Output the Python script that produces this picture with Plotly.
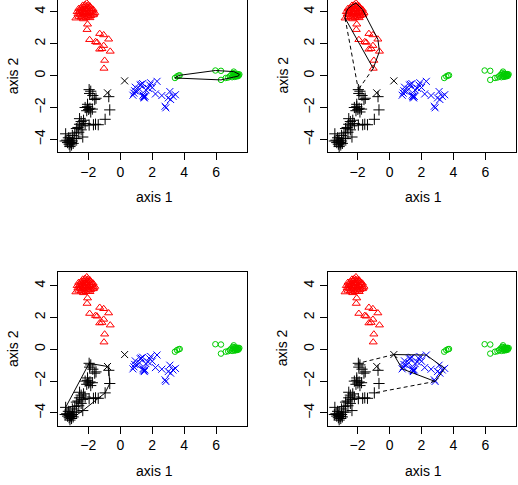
import plotly.graph_objects as go

# ---------------- data ----------------
black_plus_x = [-1.95, -1.85, -1.92, -1.72, -1.60, -1.52, -0.72, -0.66, -2.20, -2.05,
                -1.90, -1.75, -2.10, -1.85, -1.98, -0.95, -1.68, -1.38, -1.55, -2.30,
                -2.45, -2.20, -2.55, -2.35, -2.65, -2.45, -2.75, -2.60, -2.35, -2.85,
                -3.00, -2.90, -3.25, -3.42, -3.45, -3.30, -3.15, -3.10, -3.20, -3.00,
                -3.05, -2.95, -3.15, -3.35, -3.20, -3.05, -2.75, -2.05, -1.95, -2.55]
black_plus_y = [-0.88, -0.98, -1.12, -1.25, -1.50, -1.42, -1.32, -2.15, -2.00, -1.95,
                -2.05, -2.10, -2.20, -2.28, -2.12, -2.74, -3.08, -3.08, -3.05, -2.80,
                -2.88, -3.00, -3.05, -3.15, -3.25, -3.40, -3.32, -3.55, -3.85, -3.60,
                -3.75, -3.95, -3.90, -3.65, -4.10, -4.20, -4.05, -4.20, -4.30, -4.10,
                -4.35, -4.25, -4.45, -4.05, -4.15, -4.22, -3.95, -1.80, -3.10, -2.70]

black_x_x = [-0.80, 0.27]
black_x_y = [-1.08, -0.33]

red_x = [-2.78, -1.02, -0.98, -0.63, -1.04, -1.15, -1.29, -0.73, -1.04, -1.29,
         -1.55, -1.46, -1.92, -2.08, -2.05, -2.30, -1.90,
         -2.60, -2.45, -2.30, -2.15, -2.00, -1.85, -1.70, -1.60,
         -2.65, -2.50, -2.35, -2.20, -2.05, -1.90, -1.75,
         -2.55, -2.40, -2.25, -2.10, -1.95, -1.80, -1.70,
         -2.45, -2.30, -2.15, -2.00, -1.90,
         -2.35, -2.20, -2.10, -2.00,
         -2.60, -2.70, -1.65, -2.40, -2.25, -2.05, -1.85, -2.15]
red_y = [3.60, 0.45, 0.95, 1.52, 1.88, 1.68, 1.65, 2.28, 2.55, 2.63,
         2.12, 2.08, 2.25, 2.88, 3.22, 3.55, 3.62,
         3.70, 3.65, 3.72, 3.62, 3.70, 3.75, 3.80, 3.95,
         3.85, 3.90, 3.95, 3.90, 3.95, 4.00, 4.05,
         4.05, 4.10, 4.15, 4.10, 4.20, 4.20, 4.15,
         4.25, 4.30, 4.35, 4.30, 4.35,
         4.40, 4.45, 4.55, 4.42,
         4.20, 4.00, 3.85, 3.80, 4.00, 3.85, 3.90, 4.20]

blue_x = [0.79, 0.94, 0.90, 1.25, 1.40, 1.20, 1.05, 1.45, 1.50, 1.42,
          1.55, 1.48, 1.60, 1.75, 1.90, 2.30, 2.20, 2.00, 1.85, 2.60,
          2.80, 2.85, 3.10, 3.00, 3.30, 3.45, 3.15, 1.30, 0.85]
blue_y = [-1.23, -0.73, -0.95, -0.60, -0.50, -0.85, -1.00, -1.30, -1.40, -1.22,
          -1.30, -1.35, -0.90, -0.80, -0.45, -0.36, -1.15, -0.75, -0.60, -1.25,
          -1.92, -2.02, -1.00, -1.40, -1.30, -1.20, -1.50, -0.55, -1.10]

green_x = [3.42, 3.55, 3.65, 3.72, 5.95, 6.30, 6.30, 6.60, 6.75, 6.85,
           6.95, 7.00, 7.10, 7.10, 7.15, 7.20, 7.25, 7.30, 7.35, 7.40,
           7.45, 7.30, 7.20, 7.35, 7.40, 7.25, 7.15, 7.05]
green_y = [-0.15, -0.05, 0.00, 0.02, 0.32, 0.30, -0.27, -0.15, -0.12, -0.05,
           0.05, -0.10, 0.25, 0.00, -0.08, 0.10, 0.00, 0.05, 0.10, 0.05,
           0.08, -0.05, -0.05, 0.00, -0.02, 0.08, 0.12, 0.15]

x_ticks = [-2, 0, 2, 4, 6]
y_ticks = [-4, -2, 0, 2, 4]
x_title = "axis 1"
y_title = "axis 2"

BLACK, RED, GREEN, BLUE = "#000000", "#FF0000", "#00CD00", "#0000FF"

groups = [
    (black_plus_x, black_plus_y, "cross-thin-open", BLACK, 8),
    (black_x_x, black_x_y, "x-thin-open", BLACK, 7),
    (red_x, red_y, "triangle-up-open", RED, 7),
    (blue_x, blue_y, "x-thin-open", BLUE, 7),
    (green_x, green_y, "circle-open", GREEN, 5.5),
]


def convex_hull(xs, ys):
    pts = sorted(set(zip(xs, ys)))

    def cross(o, a, b):
        return (a[0] - o[0]) * (b[1] - o[1]) - (a[1] - o[1]) * (b[0] - o[0])
    lower, upper = [], []
    for p in pts:
        while len(lower) >= 2 and cross(lower[-2], lower[-1], p) <= 0:
            lower.pop()
        lower.append(p)
    for p in reversed(pts):
        while len(upper) >= 2 and cross(upper[-2], upper[-1], p) <= 0:
            upper.pop()
        upper.append(p)
    h = lower[:-1] + upper[:-1]
    h.append(h[0])
    return [p[0] for p in h], [p[1] for p in h]


# hull member sets and dashed links for each panel
panels = [
    dict(hull=(green_x, green_y), links=[]),
    dict(hull=(red_x, red_y),
         links=[((red_x[0], red_y[0]), (black_plus_x[0], black_plus_y[0])),
                ((red_x[1], red_y[1]), (black_plus_x[0], black_plus_y[0]))]),
    dict(hull=(black_plus_x + black_x_x[:1], black_plus_y + black_x_y[:1]), links=[]),
    dict(hull=(blue_x + black_x_x[1:], blue_y + black_x_y[1:]),
         links=[((black_x_x[1], black_x_y[1]), (black_plus_x[0], black_plus_y[0])),
                ((blue_x[21], blue_y[21]), (black_plus_x[15], black_plus_y[15]))]),
]

W, H = 518, 485
xdoms = [(58.3, 247.0), (327.5, 516.3), (58.3, 247.0), (327.5, 516.3)]
ydoms = [(0.0, 152.0), (0.0, 152.0), (272.0, 425.5), (272.0, 425.5)]
yranges = [(-4.79, 4.74), (-4.79, 4.74), (-4.79, 4.86), (-4.79, 4.86)]
xrange_ = (-3.88, 7.93)

fig = go.Figure()
FONT = dict(family="Liberation Sans, Arial, sans-serif", size=14, color="#000000")

for i, pan in enumerate(panels):
    k = "" if i == 0 else str(i + 1)
    for gx, gy, sym, col, sz in groups:
        fig.add_trace(go.Scatter(
            x=gx, y=gy, mode="markers", xaxis="x" + k, yaxis="y" + k,
            marker=dict(symbol=sym, size=sz, color=col,
                        line=dict(color=col, width=1)),
            showlegend=False, hoverinfo="skip"))
    hx, hy = convex_hull(*pan["hull"])
    fig.add_trace(go.Scatter(
        x=hx, y=hy, mode="lines", xaxis="x" + k, yaxis="y" + k,
        line=dict(color=BLACK, width=1), showlegend=False, hoverinfo="skip"))
    for (a, b) in pan["links"]:
        fig.add_trace(go.Scatter(
            x=[a[0], b[0]], y=[a[1], b[1]], mode="lines", xaxis="x" + k, yaxis="y" + k,
            line=dict(color=BLACK, width=1, dash="4px,3px"),
            showlegend=False, hoverinfo="skip"))

layout = dict(width=W, height=H, margin=dict(l=0, r=0, t=0, b=0),
              paper_bgcolor="white", plot_bgcolor="white", font=FONT)
annotations = []
for i in range(4):
    k = "" if i == 0 else str(i + 1)
    x0, x1 = xdoms[i]
    y0, y1 = ydoms[i]
    top_panel = y0 == 0.0
    layout["xaxis" + k] = dict(
        domain=[x0 / W, x1 / W], range=list(xrange_), anchor="y" + k,
        showline=True, linecolor="#000000", linewidth=1,
        mirror=(not top_panel), ticks="outside", ticklen=7, tickwidth=1,
        tickcolor="#000000", tickvals=x_ticks,
        ticktext=[str(v).replace("-", "\u2212") for v in x_ticks],
        showgrid=False, zeroline=False, tickfont=FONT, fixedrange=True)
    layout["yaxis" + k] = dict(
        domain=[1 - y1 / H, 1 - y0 / H], range=list(yranges[i]), anchor="x" + k,
        showline=True, linecolor="#000000", linewidth=1, mirror=True,
        ticks="outside", ticklen=7, tickwidth=1, tickcolor="#000000",
        tickvals=y_ticks, ticktext=[str(v).replace("-", "\u2212") for v in y_ticks],
        tickangle=-90, showgrid=False, zeroline=False, tickfont=FONT, fixedrange=True)
    cx = (x0 + x1) / 2 + 2
    annotations.append(dict(text=x_title, x=cx / W, y=1 - (y1 + 45) / H,
                            xref="paper", yref="paper", showarrow=False,
                            xanchor="center", yanchor="middle", font=FONT))
    annotations.append(dict(text=y_title, x=(x0 - 45.5) / W, y=1 - (y0 + y1 - 1) / 2 / H,
                            xref="paper", yref="paper", showarrow=False, textangle=-90,
                            xanchor="center", yanchor="middle", font=FONT))
layout["annotations"] = annotations
fig.update_layout(**layout)
fig.write_html("out.html")
